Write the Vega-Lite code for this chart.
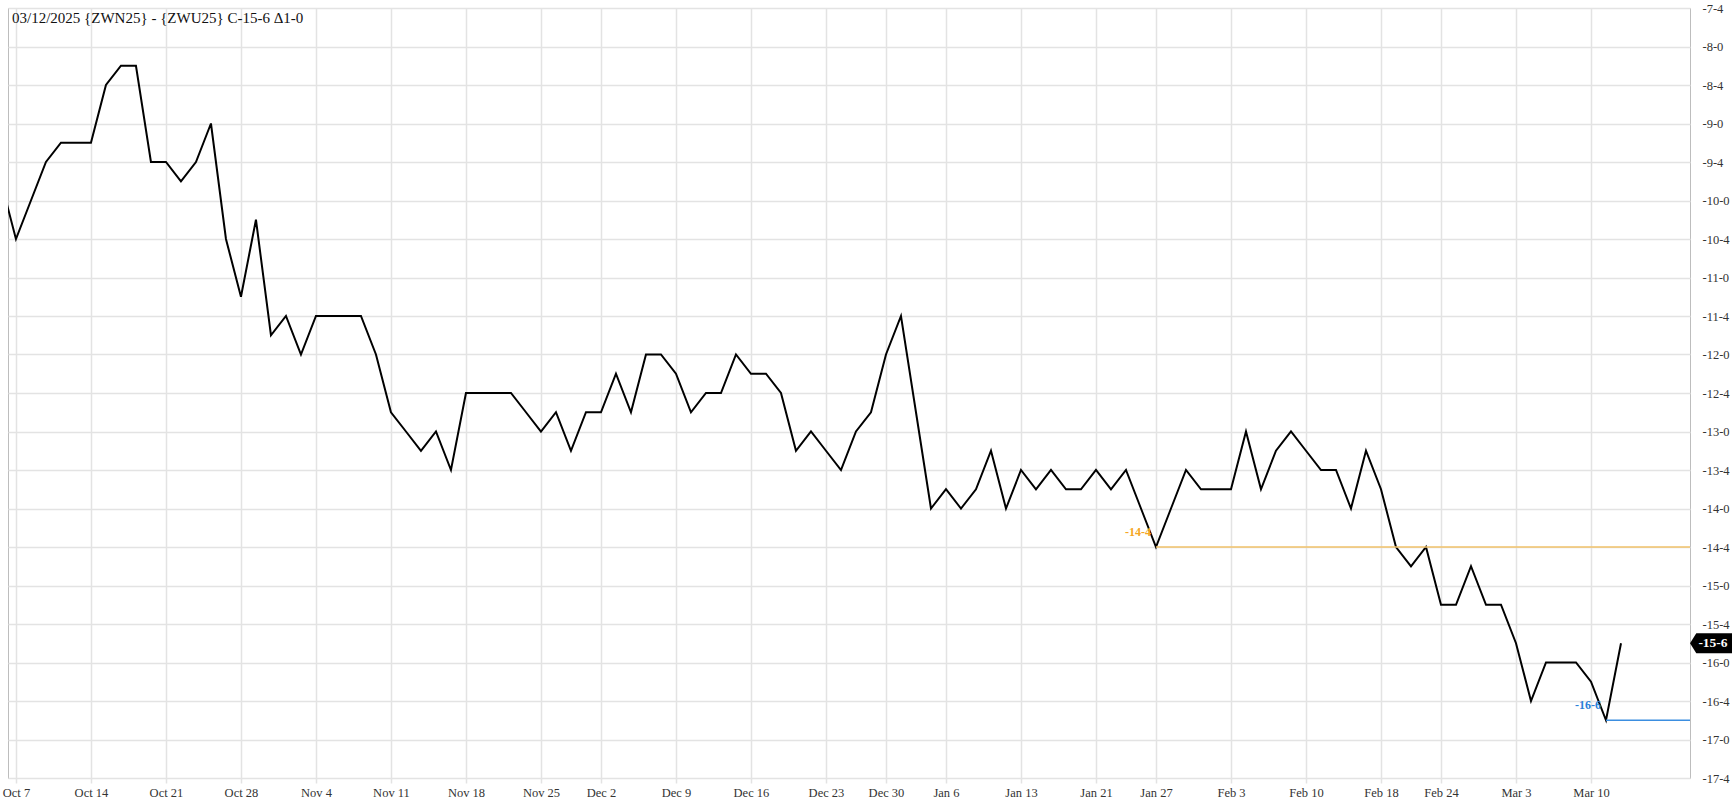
{
  "$schema": "https://vega.github.io/schema/vega-lite/v6.json",
  "width": 1682,
  "height": 770,
  "autosize": {"type": "none"},
  "padding": {"left": 8, "top": 8, "right": 44, "bottom": 28},
  "background": "#ffffff",
  "title": {
    "text": "03/12/2025 {ZWN25} - {ZWU25} C-15-6 Δ1-0",
    "anchor": "start",
    "frame": "group",
    "offset": -15,
    "dy": 21,
    "dx": 4,
    "baseline": "alphabetic",
    "font": "Liberation Serif",
    "fontSize": 15,
    "fontWeight": "normal",
    "color": "#111111"
  },
  "config": {
    "view": {"stroke": "#bdbdbd", "strokeWidth": 1}
  },
  "datasets": {
    "series": [
      {"t": -1, "date": "2024-10-04", "v": -9.75},
      {"t": 0, "date": "2024-10-07", "v": -10.5},
      {"t": 1, "date": "2024-10-08", "v": -10.0},
      {"t": 2, "date": "2024-10-09", "v": -9.5},
      {"t": 3, "date": "2024-10-10", "v": -9.25},
      {"t": 4, "date": "2024-10-11", "v": -9.25},
      {"t": 5, "date": "2024-10-14", "v": -9.25},
      {"t": 6, "date": "2024-10-15", "v": -8.5},
      {"t": 7, "date": "2024-10-16", "v": -8.25},
      {"t": 8, "date": "2024-10-17", "v": -8.25},
      {"t": 9, "date": "2024-10-18", "v": -9.5},
      {"t": 10, "date": "2024-10-21", "v": -9.5},
      {"t": 11, "date": "2024-10-22", "v": -9.75},
      {"t": 12, "date": "2024-10-23", "v": -9.5},
      {"t": 13, "date": "2024-10-24", "v": -9.0},
      {"t": 14, "date": "2024-10-25", "v": -10.5},
      {"t": 15, "date": "2024-10-28", "v": -11.25},
      {"t": 16, "date": "2024-10-29", "v": -10.25},
      {"t": 17, "date": "2024-10-30", "v": -11.75},
      {"t": 18, "date": "2024-10-31", "v": -11.5},
      {"t": 19, "date": "2024-11-01", "v": -12.0},
      {"t": 20, "date": "2024-11-04", "v": -11.5},
      {"t": 21, "date": "2024-11-05", "v": -11.5},
      {"t": 22, "date": "2024-11-06", "v": -11.5},
      {"t": 23, "date": "2024-11-07", "v": -11.5},
      {"t": 24, "date": "2024-11-08", "v": -12.0},
      {"t": 25, "date": "2024-11-11", "v": -12.75},
      {"t": 26, "date": "2024-11-12", "v": -13.0},
      {"t": 27, "date": "2024-11-13", "v": -13.25},
      {"t": 28, "date": "2024-11-14", "v": -13.0},
      {"t": 29, "date": "2024-11-15", "v": -13.5},
      {"t": 30, "date": "2024-11-18", "v": -12.5},
      {"t": 31, "date": "2024-11-19", "v": -12.5},
      {"t": 32, "date": "2024-11-20", "v": -12.5},
      {"t": 33, "date": "2024-11-21", "v": -12.5},
      {"t": 34, "date": "2024-11-22", "v": -12.75},
      {"t": 35, "date": "2024-11-25", "v": -13.0},
      {"t": 36, "date": "2024-11-26", "v": -12.75},
      {"t": 37, "date": "2024-11-27", "v": -13.25},
      {"t": 38, "date": "2024-11-29", "v": -12.75},
      {"t": 39, "date": "2024-12-02", "v": -12.75},
      {"t": 40, "date": "2024-12-03", "v": -12.25},
      {"t": 41, "date": "2024-12-04", "v": -12.75},
      {"t": 42, "date": "2024-12-05", "v": -12.0},
      {"t": 43, "date": "2024-12-06", "v": -12.0},
      {"t": 44, "date": "2024-12-09", "v": -12.25},
      {"t": 45, "date": "2024-12-10", "v": -12.75},
      {"t": 46, "date": "2024-12-11", "v": -12.5},
      {"t": 47, "date": "2024-12-12", "v": -12.5},
      {"t": 48, "date": "2024-12-13", "v": -12.0},
      {"t": 49, "date": "2024-12-16", "v": -12.25},
      {"t": 50, "date": "2024-12-17", "v": -12.25},
      {"t": 51, "date": "2024-12-18", "v": -12.5},
      {"t": 52, "date": "2024-12-19", "v": -13.25},
      {"t": 53, "date": "2024-12-20", "v": -13.0},
      {"t": 54, "date": "2024-12-23", "v": -13.25},
      {"t": 55, "date": "2024-12-24", "v": -13.5},
      {"t": 56, "date": "2024-12-26", "v": -13.0},
      {"t": 57, "date": "2024-12-27", "v": -12.75},
      {"t": 58, "date": "2024-12-30", "v": -12.0},
      {"t": 59, "date": "2024-12-31", "v": -11.5},
      {"t": 60, "date": "2025-01-02", "v": -12.75},
      {"t": 61, "date": "2025-01-03", "v": -14.0},
      {"t": 62, "date": "2025-01-06", "v": -13.75},
      {"t": 63, "date": "2025-01-07", "v": -14.0},
      {"t": 64, "date": "2025-01-08", "v": -13.75},
      {"t": 65, "date": "2025-01-09", "v": -13.25},
      {"t": 66, "date": "2025-01-10", "v": -14.0},
      {"t": 67, "date": "2025-01-13", "v": -13.5},
      {"t": 68, "date": "2025-01-14", "v": -13.75},
      {"t": 69, "date": "2025-01-15", "v": -13.5},
      {"t": 70, "date": "2025-01-16", "v": -13.75},
      {"t": 71, "date": "2025-01-17", "v": -13.75},
      {"t": 72, "date": "2025-01-21", "v": -13.5},
      {"t": 73, "date": "2025-01-22", "v": -13.75},
      {"t": 74, "date": "2025-01-23", "v": -13.5},
      {"t": 75, "date": "2025-01-24", "v": -14.0},
      {"t": 76, "date": "2025-01-27", "v": -14.5},
      {"t": 77, "date": "2025-01-28", "v": -14.0},
      {"t": 78, "date": "2025-01-29", "v": -13.5},
      {"t": 79, "date": "2025-01-30", "v": -13.75},
      {"t": 80, "date": "2025-01-31", "v": -13.75},
      {"t": 81, "date": "2025-02-03", "v": -13.75},
      {"t": 82, "date": "2025-02-04", "v": -13.0},
      {"t": 83, "date": "2025-02-05", "v": -13.75},
      {"t": 84, "date": "2025-02-06", "v": -13.25},
      {"t": 85, "date": "2025-02-07", "v": -13.0},
      {"t": 86, "date": "2025-02-10", "v": -13.25},
      {"t": 87, "date": "2025-02-11", "v": -13.5},
      {"t": 88, "date": "2025-02-12", "v": -13.5},
      {"t": 89, "date": "2025-02-13", "v": -14.0},
      {"t": 90, "date": "2025-02-14", "v": -13.25},
      {"t": 91, "date": "2025-02-18", "v": -13.75},
      {"t": 92, "date": "2025-02-19", "v": -14.5},
      {"t": 93, "date": "2025-02-20", "v": -14.75},
      {"t": 94, "date": "2025-02-21", "v": -14.5},
      {"t": 95, "date": "2025-02-24", "v": -15.25},
      {"t": 96, "date": "2025-02-25", "v": -15.25},
      {"t": 97, "date": "2025-02-26", "v": -14.75},
      {"t": 98, "date": "2025-02-27", "v": -15.25},
      {"t": 99, "date": "2025-02-28", "v": -15.25},
      {"t": 100, "date": "2025-03-03", "v": -15.75},
      {"t": 101, "date": "2025-03-04", "v": -16.5},
      {"t": 102, "date": "2025-03-05", "v": -16.0},
      {"t": 103, "date": "2025-03-06", "v": -16.0},
      {"t": 104, "date": "2025-03-07", "v": -16.0},
      {"t": 105, "date": "2025-03-10", "v": -16.25},
      {"t": 106, "date": "2025-03-11", "v": -16.75},
      {"t": 107, "date": "2025-03-12", "v": -15.75}
    ],
    "levels": [
      {"t": 76, "v": -14.5, "label": "-14-4", "kind": "high"},
      {"t": 106, "v": -16.75, "label": "-16-6", "kind": "low"}
    ],
    "last": [
      {"v": -15.75, "label": "-15-6"}
    ]
  },
  "layer": [
    {
      "data": {"name": "series"},
      "mark": {"type": "line", "color": "#000000", "strokeWidth": 2, "clip": true},
      "encoding": {
        "x": {
          "field": "t",
          "type": "quantitative",
          "scale": {"domain": [-0.53, 111.6], "nice": false, "zero": false},
          "axis": {
            "orient": "bottom",
            "title": null,
            "values": [0, 5, 10, 15, 20, 25, 30, 35, 39, 44, 49, 54, 58, 62, 67, 72, 76, 81, 86, 91, 95, 100, 105],
            "tickCount": 60,
            "labelExpr": "['Oct 7','Oct 14','Oct 21','Oct 28','Nov 4','Nov 11','Nov 18','Nov 25','Dec 2','Dec 9','Dec 16','Dec 23','Dec 30','Jan 6','Jan 13','Jan 21','Jan 27','Feb 3','Feb 10','Feb 18','Feb 24','Mar 3','Mar 10'][indexof([0,5,10,15,20,25,30,35,39,44,49,54,58,62,67,72,76,81,86,91,95,100,105], datum.value)]",
            "grid": true,
            "gridColor": "#e3e3e3",
            "gridWidth": 1.5,
            "domain": false,
            "ticks": true,
            "tickColor": "#e3e3e3",
            "tickWidth": 1.5,
            "tickSize": 5,
            "labelPadding": 3,
            "labelFont": "Liberation Serif",
            "labelFontSize": 12.5,
            "labelColor": "#333333",
            "labelFlush": false,
            "labelOverlap": false
          }
        },
        "y": {
          "field": "v",
          "type": "quantitative",
          "scale": {"domain": [-17.5, -7.5], "nice": false, "zero": false},
          "axis": {
            "orient": "right",
            "title": null,
            "values": [-17.5, -17, -16.5, -16, -15.5, -15, -14.5, -14, -13.5, -13, -12.5, -12, -11.5, -11, -10.5, -10, -9.5, -9, -8.5, -8, -7.5],
            "tickCount": 60,
            "labelExpr": "'-' + floor(abs(datum.value)) + '-' + round((abs(datum.value) - floor(abs(datum.value))) * 8)",
            "grid": true,
            "gridColor": "#e3e3e3",
            "gridWidth": 1.5,
            "domain": false,
            "ticks": false,
            "labelPadding": 12,
            "labelFont": "Liberation Serif",
            "labelFontSize": 12.5,
            "labelColor": "#333333",
            "labelFlush": false,
            "labelOverlap": false
          }
        }
      }
    },
    {
      "data": {"name": "levels"},
      "mark": {"type": "rule", "strokeWidth": 1.5},
      "encoding": {
        "x": {"field": "t", "type": "quantitative"},
        "x2": {"value": "width"},
        "y": {"field": "v", "type": "quantitative"},
        "color": {"condition": {"test": "datum.kind === 'high'", "value": "#f2c36b"}, "value": "#3b8ee0"}
      }
    },
    {
      "data": {"name": "levels"},
      "mark": {"type": "text", "align": "right", "baseline": "middle", "dx": -5, "dy": -15, "font": "Liberation Serif", "fontSize": 12, "fontWeight": "bold"},
      "encoding": {
        "x": {"field": "t", "type": "quantitative"},
        "y": {"field": "v", "type": "quantitative"},
        "text": {"field": "label"},
        "color": {"condition": {"test": "datum.kind === 'high'", "value": "#f5a623"}, "value": "#2a80d8"}
      }
    },
    {
      "data": {"name": "last"},
      "mark": {"type": "point", "shape": "M 0 0 L 0.3 -0.476 L 2 -0.476 L 2 0.476 L 0.3 0.476 Z", "size": 1764, "filled": true, "color": "#000000", "opacity": 1, "strokeWidth": 0, "clip": false},
      "encoding": {
        "x": {"value": "width"},
        "y": {"field": "v", "type": "quantitative"}
      }
    },
    {
      "data": {"name": "last"},
      "mark": {"type": "text", "align": "center", "baseline": "middle", "dx": 23, "color": "#ffffff", "font": "Liberation Serif", "fontSize": 13.5, "fontWeight": "bold", "clip": false},
      "encoding": {
        "x": {"value": "width"},
        "y": {"field": "v", "type": "quantitative"},
        "text": {"field": "label"}
      }
    }
  ]
}
